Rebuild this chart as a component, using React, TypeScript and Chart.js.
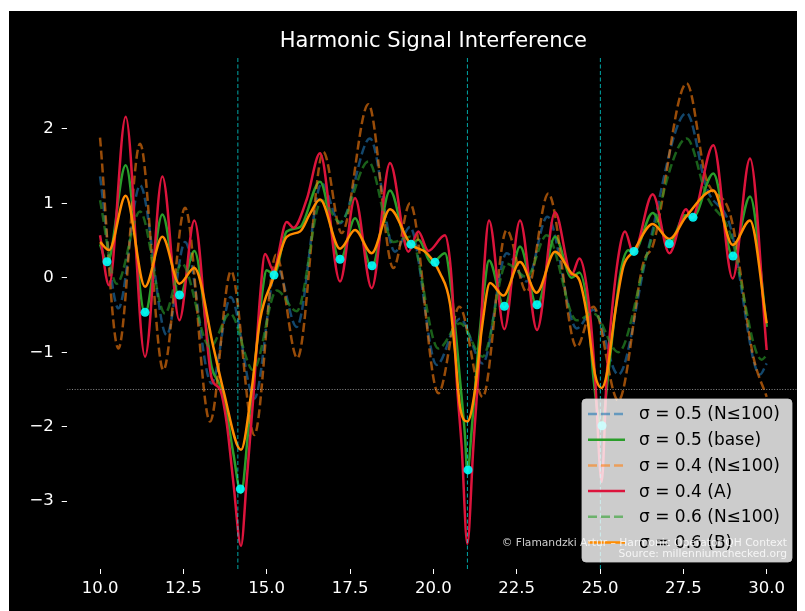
import React, { useEffect, useRef } from "react";
import { Chart, registerables } from "chart.js";

Chart.register(...registerables);

const TITLE = "Harmonic Signal Interference";
const X_TICKS = [10, 12.5, 15, 17.5, 20, 22.5, 25, 27.5, 30];
const Y_TICKS = [-3, -2, -1, 0, 1, 2];
const X_MIN = 9;
const X_MAX = 31;
const Y_MIN = -3.91;
const Y_MAX = 2.95;
const ZETA_ZEROS = [14.1347, 21.022, 25.0109];
const THRESHOLD = -1.5;

const LABELS = [
  "σ = 0.5 (N≤100)",
  "σ = 0.5 (base)",
  "σ = 0.4 (N≤100)",
  "σ = 0.4 (A)",
  "σ = 0.6 (N≤100)",
  "σ = 0.6 (B)",
];

// σ = 0.5 (N≤100) dashed blue
const blueDashX = [10.0, 10.55, 11.2, 12.0, 12.55, 13.35, 13.92, 14.63, 15.3, 15.9, 16.65, 17.2, 18.1, 18.85, 19.3, 20.1, 20.8, 21.48, 22.2, 22.8, 23.42, 24.3, 24.8, 25.55, 26.4, 27.6, 28.2, 28.9, 29.8, 30.0];
const blueDashY = [1.36, -0.41, 1.24, -0.77, 0.48, -1.42, -0.26, -1.62, 0.15, -0.66, 1.27, 0.73, 1.87, 0.35, 0.68, -1.17, -0.55, -1.15, 0.33, -0.05, 0.82, -0.68, -0.43, -1.3, 0.3, 2.21, 1.2, 0.7, -1.3, -1.15];

// σ = 0.5 (base) solid green
const greenX = [10.0, 10.22, 10.77, 11.35, 11.87, 12.38, 12.83, 13.35, 13.6, 13.8, 14.0, 14.23, 14.45, 14.65, 14.85, 15.0, 15.22, 15.6, 16.0, 16.6, 17.2, 17.65, 18.15, 18.7, 19.25, 19.55, 19.95, 20.35, 20.55, 20.8, 20.95, 21.02, 21.15, 21.35, 21.5, 21.67, 22.13, 22.6, 23.11, 23.65, 24.15, 24.38, 24.65, 24.8, 25.05, 25.25, 25.45, 25.65, 25.85, 26.02, 26.58, 27.08, 27.55, 27.79, 28.4, 28.98, 29.5, 30.0];
const greenY = [0.45, 0.2, 1.51, -0.48, 0.85, -0.26, 0.36, -1.2, -1.45, -1.82, -2.36, -2.89, -2.04, -1.15, -0.26, 0.1, 0.04, 0.62, 0.68, 1.29, 0.23, 0.8, 0.14, 1.17, 0.42, 0.51, 0.2, 0.33, -0.2, -1.37, -2.13, -2.62, -2.04, -0.93, -0.25, 0.23, -0.4, 0.42, -0.38, 0.55, 0.0, 0.07, -0.48, -1.33, -2.0, -1.28, -0.48, 0.15, 0.37, 0.35, 0.87, 0.45, 0.84, 0.81, 1.4, 0.29, 1.09, -0.66];

// σ = 0.4 (N≤100) dashed orange
const orangeDashX = [10.0, 10.55, 11.2, 11.9, 12.55, 13.3, 13.93, 14.63, 15.28, 15.92, 16.7, 17.25, 18.05, 18.8, 19.3, 20.15, 20.78, 21.48, 22.2, 22.8, 23.45, 24.3, 24.8, 25.55, 26.3, 26.6, 27.6, 28.2, 28.9, 29.6, 30.0];
const orangeDashY = [1.88, -0.95, 1.8, -1.24, 0.94, -1.93, 0.09, -2.11, 0.31, -1.08, 1.69, 0.6, 2.33, 0.13, 1.0, -1.55, -0.39, -1.6, 0.64, -0.19, 1.13, -0.93, -0.39, -1.65, 0.2, 0.45, 2.61, 1.31, 0.86, -1.06, -1.6];

// σ = 0.4 (A) solid crimson
const crimsonX = [10.0, 10.27, 10.77, 11.35, 11.87, 12.38, 12.83, 13.35, 13.6, 13.8, 14.0, 14.23, 14.4, 14.6, 14.8, 14.95, 15.2, 15.6, 15.8, 16.2, 16.6, 17.2, 17.65, 18.15, 18.7, 19.25, 19.55, 19.85, 20.35, 20.55, 20.7, 20.85, 21.02, 21.2, 21.4, 21.5, 21.67, 22.13, 22.6, 23.11, 23.65, 24.15, 24.38, 24.7, 24.85, 25.05, 25.2, 25.35, 25.6, 25.75, 26.0, 26.58, 27.08, 27.58, 27.75, 28.4, 28.98, 29.5, 30.0];
const crimsonY = [0.57, -0.1, 2.16, -1.06, 1.36, -0.57, 0.77, -1.35, -1.5, -1.95, -2.75, -3.6, -2.72, -1.6, -0.26, 0.32, 0.1, 0.75, 0.67, 1.05, 1.67, -0.05, 1.07, -0.14, 1.54, 0.35, 0.62, 0.36, 0.57, -0.03, -1.37, -2.27, -3.57, -2.27, -0.93, -0.03, 0.77, -0.69, 0.77, -0.7, 0.88, 0.04, 0.26, -0.48, -1.33, -2.74, -1.33, -0.48, 0.42, 0.62, 0.33, 1.12, 0.33, 0.92, 0.8, 1.78, -0.01, 1.6, -0.97];

// σ = 0.6 (N≤100) dashed green
const greenDashX = [10.0, 10.5, 11.2, 11.95, 12.45, 13.3, 13.9, 14.6, 15.3, 15.9, 16.65, 17.2, 18.05, 18.8, 19.3, 20.15, 20.8, 21.48, 22.2, 22.8, 23.4, 24.3, 24.8, 25.55, 26.4, 27.6, 28.2, 28.9, 29.85, 30.0];
const greenDashY = [1.04, -0.08, 0.89, -0.48, 0.19, -0.93, -0.48, -1.24, -0.17, -0.45, 1.04, 0.75, 1.56, 0.48, 0.55, -0.95, -0.61, -1.06, 0.19, 0.01, 0.57, -0.57, -0.48, -1.0, 0.3, 1.87, 1.1, 0.6, -1.1, -1.04];

// σ = 0.6 (B) solid orange
const orangeX = [10.0, 10.27, 10.77, 11.35, 11.87, 12.38, 12.83, 13.4, 13.7, 14.23, 14.55, 14.8, 15.2, 15.6, 16.0, 16.3, 16.6, 17.2, 17.65, 18.15, 18.7, 19.3, 19.8, 20.2, 20.5, 20.65, 20.8, 21.02, 21.25, 21.45, 21.7, 22.1, 22.6, 23.1, 23.65, 24.15, 24.38, 24.6, 24.85, 25.05, 25.2, 25.45, 25.7, 26.0, 26.58, 27.08, 27.58, 28.4, 28.98, 29.5, 30.0];
const orangeY = [0.48, 0.37, 1.1, -0.12, 0.55, -0.08, 0.13, -0.93, -1.51, -2.31, -1.5, -0.57, 0.0, 0.55, 0.62, 0.86, 1.05, 0.39, 0.64, 0.33, 0.92, 0.46, 0.33, 0.06, -0.35, -1.0, -1.73, -1.93, -1.51, -0.7, -0.07, -0.24, 0.21, -0.2, 0.35, 0.06, -0.03, -0.48, -1.3, -1.48, -1.3, -0.48, 0.15, 0.35, 0.72, 0.52, 0.82, 1.17, 0.44, 0.77, -0.61];

// cyan sample markers
const markerX = [10.21, 11.35, 12.385, 14.21, 15.22, 17.2, 18.16, 19.33, 20.05, 21.04, 22.13, 23.11, 25.06, 26.02, 27.08, 27.79, 28.99];
const markerY = [0.215, -0.464, -0.232, -2.836, 0.036, 0.247, 0.161, 0.448, 0.207, -2.58, -0.384, -0.362, -1.987, 0.354, 0.456, 0.811, 0.291];

const FONT = "DejaVu Sans";

const pts = (xs: number[], ys: number[]) => xs.map((x, i) => ({ x, y: ys[i] }));

const SERIES = [
  { label: LABELS[0], xs: blueDashX, ys: blueDashY, color: "rgba(31,119,180,0.6)", dash: [9, 4], order: 20 },
  { label: LABELS[1], xs: greenX, ys: greenY, color: "#2a9d2a", dash: [], order: 19 },
  { label: LABELS[2], xs: orangeDashX, ys: orangeDashY, color: "rgba(255,127,14,0.6)", dash: [9, 4], order: 18 },
  { label: LABELS[3], xs: crimsonX, ys: crimsonY, color: "#dc143c", dash: [], order: 17 },
  { label: LABELS[4], xs: greenDashX, ys: greenDashY, color: "rgba(44,160,44,0.6)", dash: [9, 4], order: 16 },
  { label: LABELS[5], xs: orangeX, ys: orangeY, color: "#ff8c00", dash: [], order: 15 },
];

export default function App() {
  const ref = useRef<HTMLCanvasElement>(null);

  useEffect(() => {
    document.documentElement.style.overflow = "hidden";
    const canvas = ref.current;
    if (!canvas) return;

    const bgPlugin = {
      id: "bg",
      beforeDraw(chart: any) {
        const ctx = chart.ctx;
        ctx.save();
        ctx.fillStyle = "#000000";
        ctx.fillRect(0, 0, chart.width, chart.height);
        ctx.restore();
      },
    };

    const legendPlugin = {
      id: "boxLegend",
      afterDraw(chart: any) {
        const ctx = chart.ctx;
        const area = chart.chartArea;
        const w = 210;
        const h = 163;
        const left = area.right - 8 - w;
        const top = area.bottom - 7 - h;
        ctx.save();
        ctx.beginPath();
        if (ctx.roundRect) ctx.roundRect(left, top, w, h, 4);
        else ctx.rect(left, top, w, h);
        ctx.fillStyle = "rgba(255,255,255,0.8)";
        ctx.fill();
        ctx.strokeStyle = "rgba(204,204,204,0.8)";
        ctx.lineWidth = 1;
        ctx.stroke();
        ctx.font = `17px "${FONT}"`;
        ctx.textBaseline = "middle";
        ctx.textAlign = "left";
        SERIES.forEach((s, i) => {
          const cy = top + 15 + i * 25.7;
          ctx.beginPath();
          ctx.setLineDash(s.dash);
          ctx.strokeStyle = s.color;
          ctx.lineWidth = 2.5;
          ctx.moveTo(left + 6, cy);
          ctx.lineTo(left + 43, cy);
          ctx.stroke();
          ctx.setLineDash([]);
          ctx.fillStyle = "#000000";
          ctx.fillText(s.label, left + 57, cy + 1);
        });
        // watermark
        ctx.font = `10.7px "${FONT}"`;
        ctx.textAlign = "right";
        ctx.fillStyle = "rgba(255,255,255,0.8)";
        ctx.fillText("© Flamandzki Artur – Harmonic Operator QH Context", area.right - 13, area.bottom - 26);
        ctx.fillText("Source: millenniumchecked.org", area.right - 13, area.bottom - 14.5);
        ctx.restore();
      },
    };

    const lineSets = SERIES.map((s) => ({
      type: "line" as const,
      label: s.label,
      data: pts(s.xs, s.ys),
      borderColor: s.color,
      backgroundColor: s.color,
      borderWidth: 2.5,
      borderDash: s.dash,
      pointRadius: 0,
      cubicInterpolationMode: "monotone" as const,
      fill: false,
      order: s.order,
    }));

    const vlineSets = ZETA_ZEROS.map((z) => ({
      type: "line" as const,
      label: "zero",
      data: [
        { x: z, y: Y_MIN },
        { x: z, y: Y_MAX },
      ],
      borderColor: "rgba(0,255,255,0.65)",
      borderWidth: 1,
      borderDash: [4, 2.5],
      pointRadius: 0,
      tension: 0,
      fill: false,
      order: 5,
    }));

    const hline = {
      type: "line" as const,
      label: "threshold",
      data: [
        { x: X_MIN, y: THRESHOLD },
        { x: X_MAX, y: THRESHOLD },
      ],
      borderColor: "rgba(200,200,200,0.7)",
      borderWidth: 1,
      borderDash: [1, 1.65],
      pointRadius: 0,
      tension: 0,
      fill: false,
      order: 4,
    };

    const markers = {
      type: "scatter" as const,
      label: "samples",
      data: pts(markerX, markerY),
      backgroundColor: "rgba(0,255,255,0.9)",
      borderWidth: 0,
      pointRadius: 4.5,
      order: 1,
    };

    const chart = new Chart(canvas, {
      type: "line",
      data: { datasets: [...lineSets, ...vlineSets, hline, markers] as any },
      plugins: [bgPlugin, legendPlugin],
      options: {
        animation: false,
        responsive: false,
        devicePixelRatio: 1,
        parsing: true,
        layout: { padding: { top: 0, right: 5, left: 0, bottom: 0 } },
        plugins: {
          legend: { display: false },
          tooltip: { enabled: false },
          title: {
            display: true,
            text: TITLE,
            fullSize: false,
            color: "#ffffff",
            font: { family: FONT, size: 21, weight: "normal", lineHeight: 1.2 },
            padding: { top: 18.4, bottom: 3.4 },
          },
        },
        scales: {
          x: {
            type: "linear",
            min: X_MIN,
            max: X_MAX,
            afterBuildTicks: (s: any) => {
              s.ticks = X_TICKS.map((v) => ({ value: v }));
            },
            afterFit: (s: any) => {
              s.height = 42;
            },
            ticks: {
              color: "#ffffff",
              font: { family: FONT, size: 16.5 },
              padding: 5,
              maxRotation: 0,
              autoSkip: false,
              callback: (v: any) => Number(v).toFixed(1),
            },
            grid: { drawOnChartArea: false, drawTicks: true, tickLength: 5, tickColor: "#ffffff", tickWidth: 1 },
            border: { display: false },
          },
          y: {
            type: "linear",
            min: Y_MIN,
            max: Y_MAX,
            afterBuildTicks: (s: any) => {
              s.ticks = Y_TICKS.map((v) => ({ value: v }));
            },
            afterFit: (s: any) => {
              s.width = 57.7;
            },
            ticks: {
              color: "#ffffff",
              font: { family: FONT, size: 16.5 },
              padding: 8,
              autoSkip: false,
              callback: (v: any) => (Number(v) < 0 ? "\u2212" + Math.abs(Number(v)) : String(v)),
            },
            grid: { drawOnChartArea: false, drawTicks: true, tickLength: 5, tickColor: "#ffffff", tickWidth: 1 },
            border: { display: false },
          },
        },
      },
    });

    return () => {
      chart.destroy();
    };
  }, []);

  return (
    <div style={{ paddingLeft: 1, paddingTop: 3 }}>
      <canvas ref={ref} width={796} height={600} style={{ display: "block", width: 796, height: 600 }} />
    </div>
  );
}
